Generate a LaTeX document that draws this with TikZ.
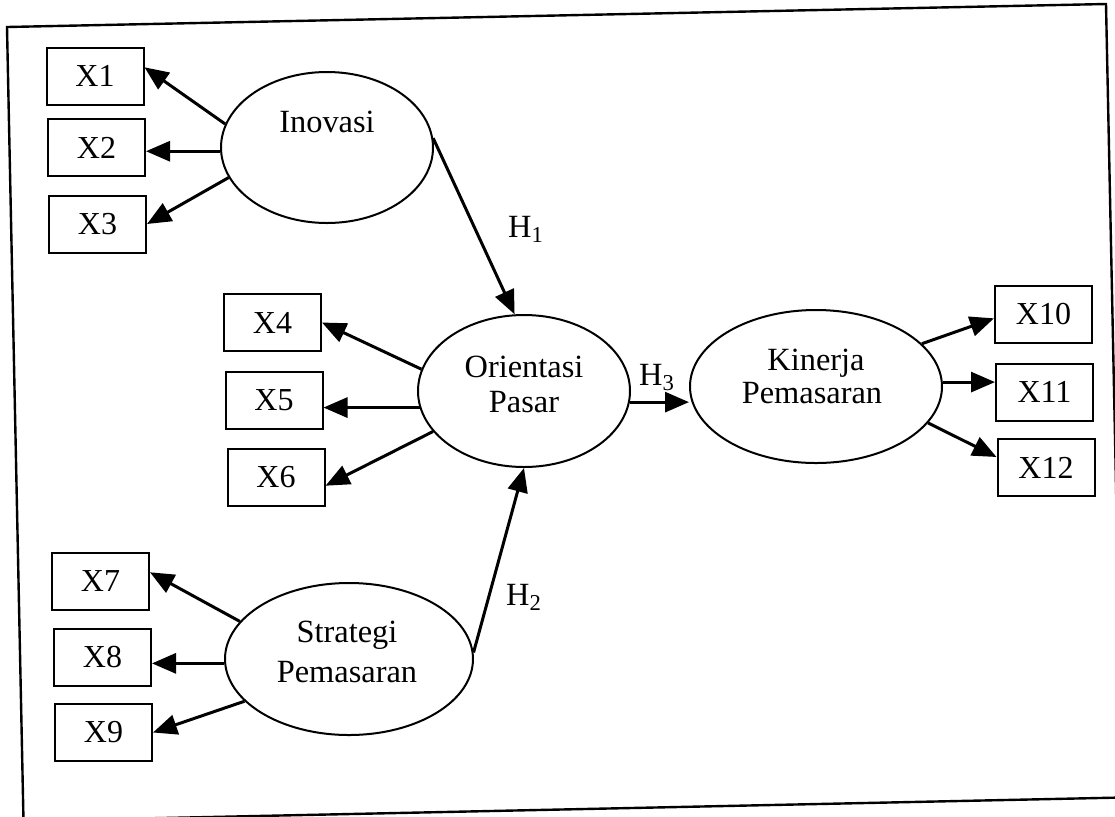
\documentclass[tikz,border=0pt]{standalone}
\usepackage{fontspec}
\setmainfont{Liberation Serif}
\usetikzlibrary{arrows.meta,shapes.geometric,calc}
\begin{document}
\begin{tikzpicture}[x=0.5pt,y=-0.5pt,
  box/.style={draw,line width=1pt,minimum width=48.5pt,minimum height=28.5pt,inner sep=0pt,font=\fontsize{16}{19}\selectfont},
  lat/.style={draw,ellipse,line width=1pt,inner sep=0pt},
  txt/.style={anchor=base,inner sep=0pt,font=\fontsize{16.2}{19}\selectfont},
  arr/.style={line width=1.5pt,-{Triangle[length=12pt,width=10pt]}},
  frame/.style={line width=1.2pt}
]
\useasboundingbox (0,0) rectangle (1115,816);
\begin{scope}
\clip (0,0) rectangle (1115,816);
\draw[frame] (7,27) -- (1106,4) -- (1122.5,797.5) -- (23.5,821) -- cycle;
\end{scope}

\node[box] (x1) at (95,76) {X1};
\node[box] (x2) at (96.5,147.5) {X2};
\node[box] (x3) at (97.5,224) {X3};
\node[box] (x4) at (272.5,322.5) {X4};
\node[box] (x5) at (274,400) {X5};
\node[box] (x6) at (276,477) {X6};
\node[box] (x7) at (100.5,581) {X7};
\node[box] (x8) at (102.5,657.5) {X8};
\node[box] (x9) at (103.5,732.5) {X9};
\node[box] (x10) at (1043.5,314) {X10};
\node[box] (x11) at (1044.5,392) {X11};
\node[box] (x12) at (1046,467.5) {X12};

\node[lat,minimum width=106pt,minimum height=75.5pt] (ino) at (327,147.5) {};
\node[lat,minimum width=106pt,minimum height=76pt] (ori) at (524,391) {};
\node[lat,minimum width=126pt,minimum height=76.5pt] (kin) at (816,386.5) {};
\node[lat,minimum width=124pt,minimum height=76pt] (str) at (349,659) {};

\node[txt] (inoT) at (327,132) {Inovasi};
\node[txt] (oriT1) at (524,377) {Orientasi};
\node[txt] (oriT2) at (524,412) {Pasar};
\node[txt] (kinT1) at (816,370) {Kinerja};
\node[txt] (kinT2) at (812,403) {Pemasaran};
\node[txt] (strT1) at (347,642) {Strategi};
\node[txt] (strT2) at (347,682) {Pemasaran};

\node[txt] (h1) at (526,237) {H\textsubscript{1}};
\node[txt] (h2) at (524,605) {H\textsubscript{2}};
\node[txt] (h3) at (657,385) {H\textsubscript{3}};

\draw[arr] (ino.167) -- (x1.10);
\draw[arr] (ino.182) -- (ino.182 -| x2.east);
\draw[arr] (ino.197) -- (x3.east);
\draw[arr] (ori.168) -- (x4.east);
\draw[arr] (ori.189) -- (ori.189 -| x5.east);
\draw[arr] (ori.204) -- (x6.-10);
\draw[arr] (str.161) -- (x7.10);
\draw[arr] (str.182) -- (str.182 -| x8.east);
\draw[arr] (str.202) -- (x9.east);
\draw[arr] (kin.22) -- (x10.185);
\draw[arr] (kin.2) -- (kin.2 -| x11.west);
\draw[arr] (kin.-18) -- (x12.168);
\draw[arr] (ino.5) -- (ori.97);
\draw[arr] (str.3) -- (ori.south);
\draw[arr] (ori.-6) -- (ori.-6 -| kin.west);
\end{tikzpicture}
\end{document}
